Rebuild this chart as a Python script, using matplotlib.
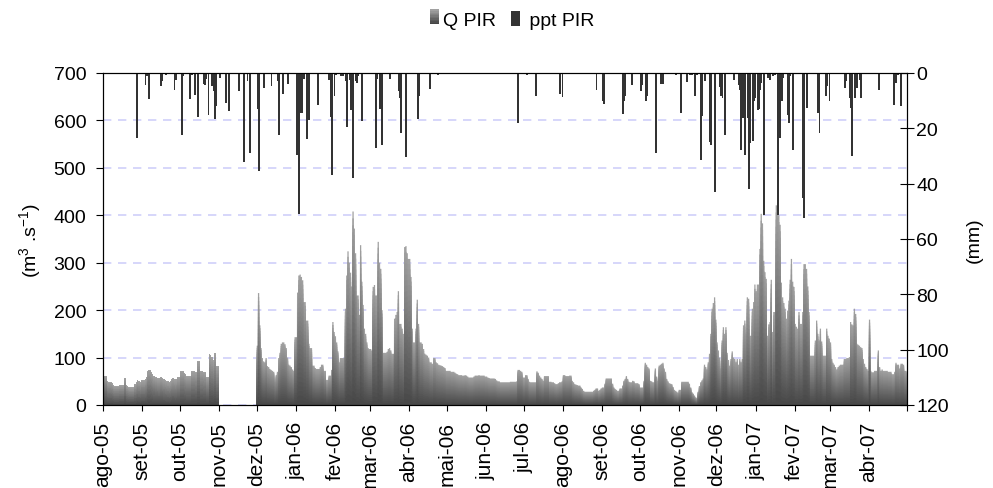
import matplotlib
matplotlib.use("Agg")
import matplotlib.pyplot as plt
import matplotlib.dates as mdates
from matplotlib.patches import Rectangle, Patch
from matplotlib.legend_handler import HandlerBase
import numpy as np
import pandas as pd

plt.rcParams['font.family'] = ['Liberation Sans', 'DejaVu Sans']
plt.rcParams['mathtext.fontset'] = 'custom'
plt.rcParams['mathtext.rm'] = 'Liberation Sans'

# daily discharge Q PIR (m3/s), one list per month (no data in nov-05)
q_ago05 = [62,62,62,50,49,49,48,46,42,40,40,40,40,42,42,42,42,56,42,40,38,37,37,37,37,44,48,52,50,48,52]
q_set05 = [52,52,55,60,72,74,73,70,66,62,60,58,57,56,58,58,57,54,52,51,50,49,50,54,56,55,54,55,58,60]
q_out05 = [72,72,72,68,65,62,62,62,62,72,72,72,70,70,93,93,72,72,70,69,69,58,58,108,106,101,95,110,110,83,83]
q_dez05 = [125,236,168,120,99,92,90,99,82,80,76,74,72,70,49,63,70,99,110,129,132,132,128,120,100,85,83,80,75,72,143]
q_jan06 = [143,237,273,275,270,263,217,217,178,178,129,120,120,83,83,78,76,76,76,80,85,85,72,72,53,53,62,62,74,175,154]
q_fev06 = [145,132,113,90,99,99,99,99,203,273,324,300,279,250,408,372,320,231,231,190,337,260,211,161,150,132,120,118]
q_mar06 = [118,115,249,253,231,231,344,300,287,200,110,110,110,112,118,120,115,108,108,182,190,196,240,171,171,161,150,333,335,320,308]
q_abr06 = [308,270,161,132,132,161,222,171,132,132,129,118,108,106,104,100,90,90,87,99,99,90,88,85,84,83,82,80,78,72]
q_mai06 = [72,72,72,70,70,70,68,66,65,63,63,63,62,62,63,62,60,58,58,58,58,60,62,62,62,63,62,62,62,62,60]
q_jun06 = [60,58,57,56,56,56,56,55,52,50,50,48,48,48,48,48,48,48,48,49,49,49,49,49,50,74,74,72,70,58]
q_jul06 = [58,63,63,55,49,48,48,48,48,48,71,68,62,58,55,51,61,61,61,61,49,49,48,48,46,44,44,46,48,48,50]
q_ago06 = [63,63,61,61,61,62,62,51,48,44,43,42,41,41,37,34,30,28,28,28,28,28,28,28,30,32,35,35,30,32,35]
q_set06 = [37,37,45,56,56,56,56,56,45,37,34,32,30,30,35,35,41,51,55,61,55,49,48,48,51,50,46,46,46,44]
q_out06 = [37,37,37,51,89,85,80,77,51,50,48,48,77,60,51,83,85,87,89,77,70,55,50,46,45,44,38,32,30,28,25]
q_nov06 = [32,32,49,49,49,49,49,49,45,37,27,24,20,16,14,28,40,48,52,56,85,80,75,90,108,150,203,215,227,180]
q_dez06 = [132,115,100,77,136,164,150,164,110,95,83,97,113,100,97,90,97,85,97,90,97,168,178,150,227,224,146,146,203,217,254]
q_jan07 = [240,254,254,329,403,383,304,280,266,146,170,175,264,154,196,196,421,425,400,380,258,227,215,203,182,199,220,264,308,260,249]
q_fev07 = [171,165,161,196,171,171,196,297,297,287,250,196,104,104,104,104,136,178,150,136,161,134,104,104,104,161,146,140]
q_mar07 = [132,97,89,85,80,75,80,83,85,85,85,97,97,99,99,101,175,170,168,203,192,129,127,125,122,120,97,87,80,76,72]
q_abr07 = [180,72,69,69,72,72,72,115,80,72,75,72,72,72,72,70,70,70,65,65,70,89,85,85,77,87,87,85,72,72]

# daily rainfall ppt PIR (mm): days after 2005-08-01 and amount
ppt_day = [26,33,34,35,36,45,46,49,56,57,62,63,68,70,72,75,79,80,81,83,86,87,88,89,92,97,99,107,111,114,116,
           122,123,127,133,138,139,142,146,153,154,155,156,157,159,161,162,163,170,179,180,181,183,184,188,190,
           192,193,195,196,197,198,200,201,202,205,216,217,219,221,227,234,235,236,240,249,250,259,265,329,336,
           343,362,364,391,396,397,412,413,414,419,426,427,430,431,438,442,444,454,458,463,465,467,469,471,474,
           475,477,481,482,485,489,490,491,493,500,504,505,506,507,508,509,511,512,513,515,516,517,519,520,521,
           522,524,527,528,529,531,533,535,537,538,539,543,544,545,547,555,556,558,567,568,573,574,576,588,589,
           592,593,594,596,598,600,601,615,627,629,630,633]
ppt_mm = [23.5,4.2,1.2,1.2,9.3,4.8,3.0,0.6,6.0,2.4,22.5,1.2,9.3,0.6,8.0,16.0,4.0,4.2,2.0,15.3,4.8,6.4,16.5,12.0,1.8,11.0,13.6,6.6,32.0,3.0,28.8,
          12.9,35.5,5.4,4.8,3.0,22.5,7.5,4.0,29.5,24.0,51.0,14.5,14.5,2.0,24.0,3.6,17.0,11.7,2.4,16.0,36.7,8.4,0.6,1.2,1.2,
          3.0,19.6,2.4,13.2,13.2,38.0,3.0,3.6,1.2,17.2,27.0,2.0,12.9,25.9,2.0,6.6,9.0,21.7,30.2,16.5,8.4,5.7,0.6,18.2,0.6,
          8.2,7.5,8.6,6.0,10.2,11.1,14.7,10.2,8.4,4.2,6.6,4.2,10.2,8.4,28.8,3.9,3.9,0.6,14.5,3.3,0.6,0.6,8.2,0.6,31.3,
          15.4,3.0,25.0,26.0,43.0,5.0,8.4,9.0,22.3,2.4,4.2,6.0,27.7,16.3,16.3,29.5,16.3,42.0,25.3,24.5,10.2,9.0,13.5,12.9,6.0,
          3.6,51.5,1.8,1.2,2.4,1.2,0.6,51.5,23.5,10.2,1.8,15.3,18.0,1.2,28.0,45.0,52.4,12.7,14.5,21.7,8.4,4.8,10.2,5.4,3.0,
          9.0,12.7,30.0,9.0,5.4,2.4,9.0,6.0,11.4,3.6,0.6,12.0]

month_labels = ['ago-05', 'set-05', 'out-05', 'nov-05', 'dez-05', 'jan-06', 'fev-06', 'mar-06',
                'abr-06', 'mai-06', 'jun-06', 'jul-06', 'ago-06', 'set-06', 'out-06', 'nov-06',
                'dez-06', 'jan-07', 'fev-07', 'mar-07', 'abr-07']

segments = [
    [('2005-08-01', q_ago05), ('2005-09-01', q_set05), ('2005-10-01', q_out05)],
    [('2005-12-01', q_dez05), ('2006-01-01', q_jan06), ('2006-02-01', q_fev06), ('2006-03-01', q_mar06),
     ('2006-04-01', q_abr06), ('2006-05-01', q_mai06), ('2006-06-01', q_jun06), ('2006-07-01', q_jul06),
     ('2006-08-01', q_ago06), ('2006-09-01', q_set06), ('2006-10-01', q_out06), ('2006-11-01', q_nov06),
     ('2006-12-01', q_dez06), ('2007-01-01', q_jan07), ('2007-02-01', q_fev07), ('2007-03-01', q_mar07),
     ('2007-04-01', q_abr07)],
]

dark = np.array([0.27, 0.27, 0.27])
light = np.array([0.63, 0.63, 0.63])


def shade(f):
    return tuple(dark + (light - dark) * f)


fig = plt.figure(figsize=(9.93, 4.89), dpi=100)
ax = fig.add_axes([103 / 993, 1 - 406 / 489, (906.7 - 103) / 993, (406 - 74) / 489])
ax2 = ax.twinx()

# Q PIR: daily columns with a vertical gradient (light top, dark bottom)
n_layers = 28
for seg in segments:
    days, vals = [], []
    for m0, v in seg:
        days.extend(pd.date_range(m0, periods=len(v), freq='D'))
        vals.extend(v)
    edges = mdates.date2num(list(days) + [days[-1] + pd.Timedelta(days=1)])
    vals = np.array(vals, dtype=float)
    for f in np.linspace(1, 1 / n_layers, n_layers):
        ax.stairs(vals * f, edges, baseline=0, fill=True, color=shade(f), lw=0, zorder=2)

# ppt PIR on inverted secondary axis
start = pd.Timestamp('2005-08-01')
ppt_x = mdates.date2num([start + pd.Timedelta(days=d) for d in ppt_day])
ax2.bar(ppt_x, ppt_mm, width=1.5, color='#333333', lw=0, align='edge')

x0 = mdates.date2num(pd.Timestamp('2005-08-01'))
x1 = mdates.date2num(pd.Timestamp('2007-05-01'))
ax.set_xlim(x0, x1)
ax.set_ylim(0, 700)
ax.set_yticks(range(0, 701, 100))
ax2.set_ylim(120, 0)
ax2.set_yticks(range(0, 121, 20))

ticks = mdates.date2num(pd.date_range('2005-08-01', '2007-05-01', freq='MS'))
ax.set_xticks(ticks)
ax.set_xticklabels(month_labels + [''], rotation=90, fontsize=15)

ax.grid(axis='y', color='#cfcffa', linestyle=(0, (5, 4)), lw=1.2, zorder=0)
ax.set_axisbelow(True)

ax.tick_params(axis='y', direction='out', length=5, width=0.8, labelsize=14, pad=7)
ax.tick_params(axis='x', direction='out', length=4.3, width=0.8, pad=7)
ax2.tick_params(axis='y', direction='inout', length=10, width=0.8, labelsize=14, pad=2)
for a in (ax, ax2):
    for s in a.spines.values():
        s.set_linewidth(0.8)
        s.set_color('black')

ax.set_ylabel('(m$^{3}$ .s$^{-1}$)', fontsize=14, labelpad=7)
ax2.set_ylabel('(mm)', fontsize=14, labelpad=12)


class GradHandler(HandlerBase):
    def create_artists(self, legend, orig, xd, yd, w, h, fontsize, trans):
        arts = []
        n = 10
        for i in range(n):
            r = Rectangle((xd, yd + h * i / n), w, h / n + 0.1, facecolor=shade(i / (n - 1)),
                          lw=0, transform=trans)
            arts.append(r)
        return arts


h_q = Patch(label='Q PIR')
h_p = Patch(facecolor='#333333', label=' ppt PIR')
fig.legend(handles=[h_q, h_p], loc='center', bbox_to_anchor=(512 / 993, 1 - 21 / 489), ncol=2,
           frameon=False, fontsize=14, handlelength=0.45, handleheight=0.8, handletextpad=0.2,
           columnspacing=0.8, handler_map={h_q: GradHandler()})

fig.savefig('out.png', dpi=100)
